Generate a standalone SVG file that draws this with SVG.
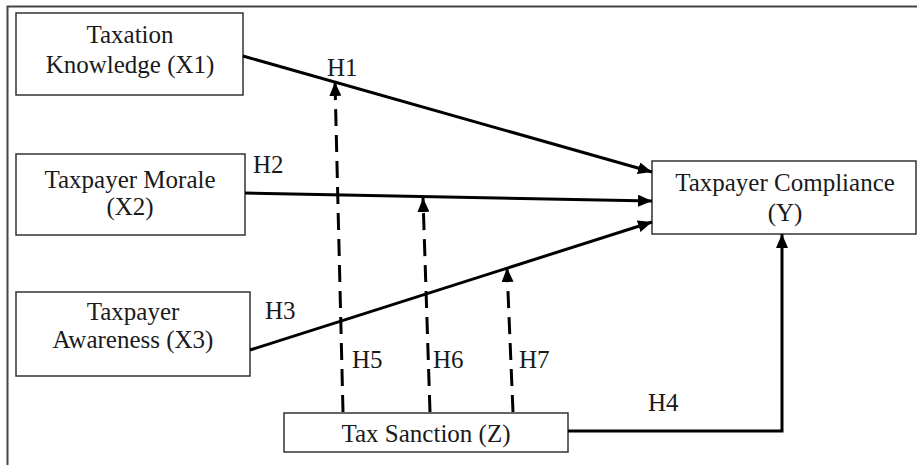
<svg xmlns="http://www.w3.org/2000/svg" width="917" height="465" viewBox="0 0 917 465">
<style>
text{font-family:"Liberation Serif","Times New Roman",serif;font-size:25px;fill:#1a1a1a}
.box{fill:#fff;stroke:#333;stroke-width:1.5}
.c{stroke:#000;stroke-width:3;fill:none}
.d{stroke:#000;stroke-width:3;fill:none;stroke-dasharray:17 9}
</style>
<defs>
<marker id="ah" markerUnits="userSpaceOnUse" markerWidth="14" markerHeight="12" refX="14" refY="6" orient="auto">
<path d="M0,0 L14,6 L0,12 z" fill="#000"/>
</marker>
</defs>
<rect width="917" height="465" fill="#fff"/>
<path d="M7.5,465 V6.5 H917" fill="none" stroke="#444" stroke-width="2"/>
<g id="x1"><rect class="box" x="16" y="13" width="227" height="82"/><text x="130" y="43" text-anchor="middle">Taxation</text><text x="130" y="73" text-anchor="middle">Knowledge (X1)</text></g>
<g id="x2"><rect class="box" x="16" y="154" width="229" height="81"/><text x="130" y="188" text-anchor="middle">Taxpayer Morale</text><text x="130" y="215" text-anchor="middle">(X2)</text></g>
<g id="x3"><rect class="box" x="16" y="292" width="234" height="84"/><text x="133" y="320" text-anchor="middle">Taxpayer</text><text x="133" y="348" text-anchor="middle">Awareness (X3)</text></g>
<g id="y"><rect class="box" x="652" y="161" width="264" height="73"/><text x="785" y="191" text-anchor="middle">Taxpayer Compliance</text><text x="785" y="221" text-anchor="middle">(Y)</text></g>
<g id="z"><rect class="box" x="284" y="413" width="284" height="39"/><text x="426" y="442" text-anchor="middle">Tax Sanction (Z)</text></g>
<g id="connectors">
<line class="c" x1="243" y1="56" x2="652" y2="172" marker-end="url(#ah)"/>
<line class="c" x1="245" y1="193" x2="652" y2="201" marker-end="url(#ah)"/>
<line class="c" x1="250" y1="350" x2="652" y2="222" marker-end="url(#ah)"/>
<path class="c" d="M568,431 H782 V234" marker-end="url(#ah)"/>
<line class="d" x1="343" y1="412" x2="335" y2="82" marker-end="url(#ah)"/>
<line class="d" x1="430" y1="412" x2="423" y2="198" marker-end="url(#ah)"/>
<line class="d" x1="513" y1="412" x2="507" y2="268" marker-end="url(#ah)"/>
</g>
<g id="labels">
<text x="327" y="76">H1</text>
<text x="253" y="173">H2</text>
<text x="265" y="319">H3</text>
<text x="648" y="411">H4</text>
<text x="352" y="368">H5</text>
<text x="433" y="368">H6</text>
<text x="519" y="368">H7</text>
</g>
</svg>
